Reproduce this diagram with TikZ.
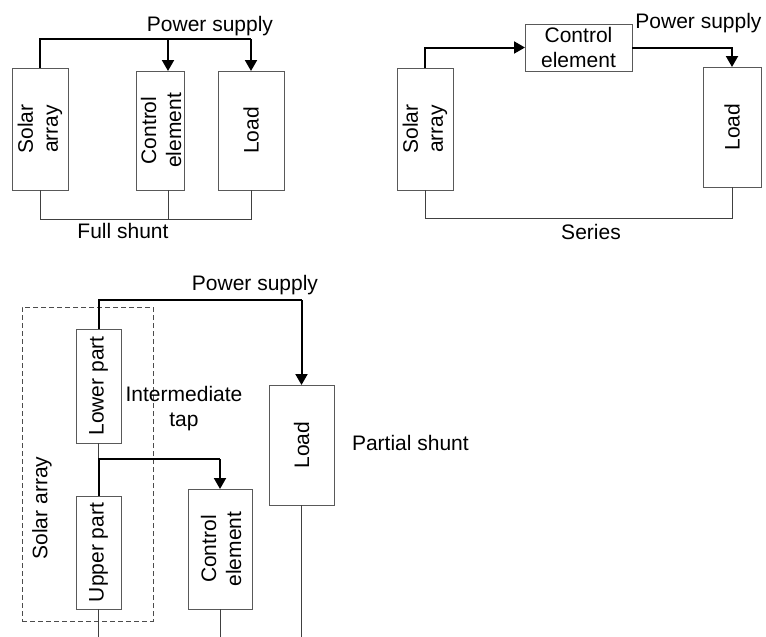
\documentclass[tikz,border=0pt]{standalone}
\usepackage{fontspec}
\setmainfont{Liberation Sans}
\usetikzlibrary{arrows.meta}
\begin{document}
\begin{tikzpicture}[x=1pt,y=-1pt,
  every node/.style={font=\fontsize{21}{25}\selectfont, inner sep=0pt, outer sep=0pt},
  blk/.style={draw=black!65, line width=1pt, rectangle},
  pw/.style={line width=2pt, black},
  arr/.style={line width=2pt, black, -{Triangle[length=11pt,width=12pt]}},
  wire/.style={line width=1pt, black!75},
  txt/.style={anchor=base},
  rtxt/.style={rotate=90, align=center}]
\useasboundingbox (0,0) rectangle (766,637);

% ---------- Full shunt ----------
\node[blk, minimum width=56pt, minimum height=122pt] (sa1) at (40,129) {};
\node[blk, minimum width=48pt, minimum height=119pt] (ce1) at (160,130.5) {};
\node[blk, minimum width=66pt, minimum height=119pt] (ld1) at (251,130.5) {};
\node[rtxt] (sa1t) at (sa1.center) {Solar\\array};
\node[rtxt] (ce1t) at (161,130.5) {Control\\element};
\node[rtxt] (ld1t) at (ld1.center) {Load};
\node[txt] (ps1) at (210,31) {Power supply};
\node[txt] (fs) at (123,238) {Full shunt};
\coordinate (t1) at (168,39);
\coordinate (b1) at (40,219);
\draw[pw] (sa1.north) |- (ld1.north |- t1);
\draw[arr] (ld1.north |- t1) -- (ld1.north);
\draw[arr] (t1) -- (t1 |- ce1.north);
\draw[wire] (sa1.south) -- (b1) -- (ld1.south |- b1) -- (ld1.south);
\draw[wire] (t1 |- ce1.south) -- (t1 |- b1);

% ---------- Series ----------
\node[blk, minimum width=56pt, minimum height=122pt] (sa2) at (425,129) {};
\node[blk, minimum width=107pt, minimum height=47pt, align=center] (ce2) at (578.5,47.5) {};
\node[blk, minimum width=58pt, minimum height=120pt] (ld2) at (732,127) {};
\node[rtxt] (sa2t) at (sa2.center) {Solar\\array};
\node[align=center] (ce2t) at (ce2.center) {Control\\element};
\node[rtxt] (ld2t) at (ld2.center) {Load};
\node[txt] (ps2) at (698.5,28) {Power supply};
\node[txt] (se) at (591,239) {Series};
\coordinate (b2) at (425,218);
\draw[arr] (sa2.north) |- (ce2.west);
\draw[arr] (ce2.east) -| (ld2.north);
\draw[wire] (sa2.south) -- (b2) -- (ld2.south |- b2) -- (ld2.south);

% ---------- Partial shunt ----------
\node[draw=black!70, line width=1pt, dash pattern=on 5pt off 3pt, minimum width=131pt, minimum height=314pt] (sab) at (87.5,464) {};
\node[blk, minimum width=45pt, minimum height=114pt] (lp) at (98.5,386) {};
\node[blk, minimum width=45pt, minimum height=113pt] (up) at (98.5,552.5) {};
\node[blk, minimum width=64pt, minimum height=120pt] (ce3) at (220,549) {};
\node[blk, minimum width=65pt, minimum height=120pt] (ld3) at (301.5,445) {};
\node[rtxt] (lpt) at (lp.center) {Lower part};
\node[rtxt] (upt) at (up.center) {Upper part};
\node[rtxt] (ce3t) at (221,549) {Control\\element};
\node[rtxt] (ld3t) at (ld3.center) {Load};
\node[rtxt] (sabt) at (42,508) {Solar array};
\node[txt] (ps3) at (255,290) {Power supply};
\node[align=center, anchor=base] (it) at (184,426) {Intermediate\\tap};
\node[txt, anchor=base west] (pst) at (352,450) {Partial shunt};
\coordinate (bus3) at (98.5,300);
\coordinate (tap) at (98.5,459);
\coordinate (bot) at (0,637);
\draw[pw] (lp.north) -- (bus3) -- (ld3.north |- bus3);
\draw[arr] (ld3.north |- bus3) -- (ld3.north);
\draw[wire] (lp.south) -- (tap);
\draw[pw] (up.north) -- (tap) -- (ce3.north |- tap);
\draw[arr] (ce3.north |- tap) -- (ce3.north);
\draw[wire] (up.south) -- (up.south |- bot);
\draw[wire] (ce3.south) -- (ce3.south |- bot);
\draw[wire] (ld3.south) -- (ld3.south |- bot);
\end{tikzpicture}
\end{document}
